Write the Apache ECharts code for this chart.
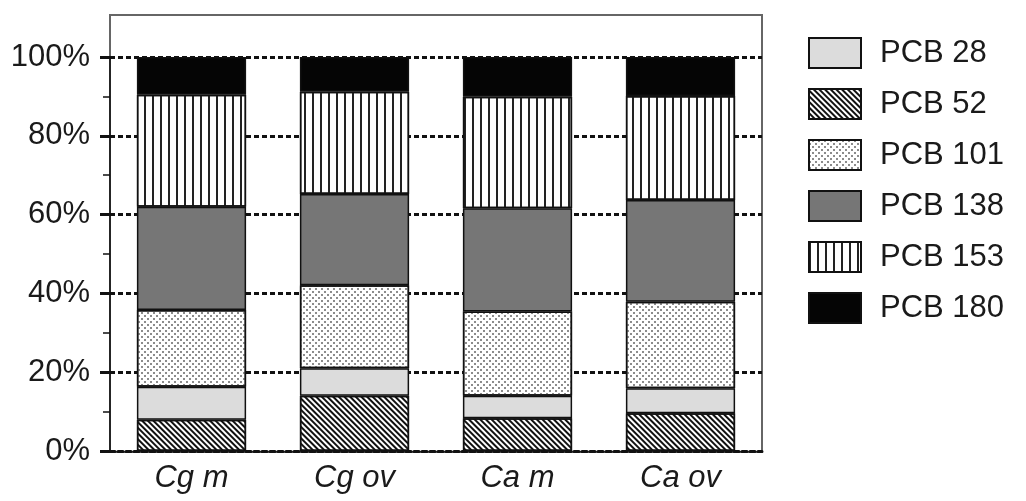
<!DOCTYPE html>
<html><head><meta charset="utf-8">
<script src="https://cdn.jsdelivr.net/npm/echarts@6/dist/echarts.min.js"></script>
<style>html,body{margin:0;padding:0;background:#fff}#c{width:1026px;height:501px}</style>
</head><body><div id="c"></div>
<script>
const categories = ['Cg m', 'Cg ov', 'Ca m', 'Ca ov'];
const pcb52  = [7.9, 14.0, 8.3, 9.6];
const pcb28  = [8.4, 7.0, 5.7, 6.3];
const pcb101 = [19.5, 21.1, 21.4, 22.0];
const pcb138 = [26.2, 23.1, 26.2, 25.8];
const pcb153 = [28.4, 26.0, 28.3, 26.4];
const pcb180 = [9.6, 8.8, 10.1, 9.9];
const legendOrder = ['PCB 28', 'PCB 52', 'PCB 101', 'PCB 138', 'PCB 153', 'PCB 180'];
const yTicks = [0, 20, 40, 60, 80, 100];

const FONT = '"Liberation Sans", Arial, sans-serif';
const base = { color: '#fff', borderColor: '#111', borderWidth: 1.5 };
const styles = {
  'PCB 52': Object.assign({}, base, { decal: { symbol: 'rect', symbolSize: 1, dashArrayX: [1, 0], dashArrayY: [2, 2], rotation: Math.PI / 4, color: '#111' } }),
  'PCB 28': Object.assign({}, base, { color: '#dcdcdc' }),
  'PCB 101': Object.assign({}, base, { decal: { symbol: 'circle', symbolSize: 1, dashArrayX: [[2, 4], [0, 3, 2, 1]], dashArrayY: [2, 1], color: '#666' } }),
  'PCB 138': Object.assign({}, base, { color: '#767676' }),
  'PCB 153': Object.assign({}, base, { decal: { symbol: 'rect', symbolSize: 1, dashArrayX: [2, 6], dashArrayY: [1, 0], color: '#222' } }),
  'PCB 180': Object.assign({}, base, { color: '#050505' })
};
const seriesData = [
  ['PCB 52', pcb52], ['PCB 28', pcb28], ['PCB 101', pcb101],
  ['PCB 138', pcb138], ['PCB 153', pcb153], ['PCB 180', pcb180]
];

const chart = echarts.init(document.getElementById('c'), null, { renderer: 'canvas' });
chart.setOption({
  backgroundColor: '#fff',
  animation: false,
  legend: {
    orient: 'vertical', left: 803, top: 32,
    data: legendOrder, icon: 'rect',
    itemWidth: 52, itemHeight: 30, itemGap: 19,
    textStyle: { fontFamily: FONT, fontSize: 31, color: '#1a1a1a', padding: [0, 0, 0, 14] }
  },
  grid: [
    { left: 110, right: 264, top: 57, bottom: 50, containLabel: false },
    { left: 110, right: 264, top: 15, bottom: 49, show: true, borderColor: '#666', borderWidth: 2, backgroundColor: 'transparent' }
  ],
  xAxis: [
    {
      type: 'category', data: categories, gridIndex: 0,
      axisLine: { lineStyle: { color: '#111', width: 3, type: [5, 3] } },
      axisTick: { alignWithLabel: true, length: 6, lineStyle: { color: '#333', width: 1.5 } },
      axisLabel: { fontFamily: FONT, fontSize: 31, fontStyle: 'italic', color: '#1a1a1a', margin: 12 }
    },
    { type: 'value', gridIndex: 1, show: false }
  ],
  yAxis: [
    {
      type: 'value', gridIndex: 0, min: 0, max: 100, interval: 20,
      axisLine: { show: true, lineStyle: { color: '#111', width: 1.5 } },
      axisTick: { show: true, length: 10, lineStyle: { color: '#111', width: 3 } },
      minorTick: { show: true, splitNumber: 2, length: 7, lineStyle: { color: '#111', width: 1.5 } },
      splitLine: { show: true, lineStyle: { color: '#111', width: 3, type: [5, 3] } },
      axisLabel: {
        fontFamily: FONT, fontSize: 31, color: '#1a1a1a', margin: 20,
        formatter: v => yTicks.indexOf(v) >= 0 ? v + '%' : ''
      }
    },
    { type: 'value', gridIndex: 1, show: false }
  ],
  series: seriesData.map(([name, vals]) => ({
    name, type: 'bar', stack: 'total', data: vals,
    xAxisIndex: 0, yAxisIndex: 0,
    barCategoryGap: '33%',
    itemStyle: styles[name]
  }))
});
</script></body></html>
